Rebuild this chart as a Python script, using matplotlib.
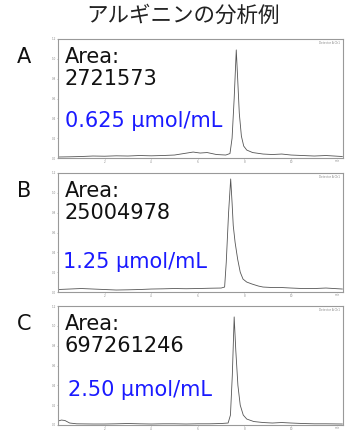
import numpy as np
import matplotlib.pyplot as plt

plt.rcParams['font.family'] = ['DejaVu Sans', 'Noto Sans CJK JP']

title = 'アルギニンの分析例'
panel_labels = ['A', 'B', 'C']
areas = ['2721573', '25004978', '697261246']
concs = ['0.625 μmol/mL', '1.25 μmol/mL', '2.50 μmol/mL']

# retention time (min) / signal
t_a = [0, 0.5, 1.0, 1.5, 2.0, 2.5, 3.0, 3.5, 4.0, 4.5, 5.0, 5.4, 5.8, 6.1, 6.4, 6.8, 7.2,
       7.38, 7.47, 7.56, 7.65, 7.71, 7.78, 7.87, 7.97, 8.1, 8.35, 8.8, 9.2, 9.6, 10.0, 10.5,
       11.0, 11.5, 12.2]
y_a = [0.01, 0.012, 0.015, 0.02, 0.018, 0.022, 0.02, 0.025, 0.022, 0.025, 0.03, 0.045,
       0.06, 0.05, 0.055, 0.035, 0.03, 0.045, 0.2, 0.6, 1.09, 0.8, 0.45, 0.22, 0.12, 0.08,
       0.055, 0.04, 0.035, 0.04, 0.03, 0.025, 0.02, 0.025, 0.015]

t_b = [0, 0.5, 1.0, 1.5, 2.0, 2.5, 3.0, 3.5, 4.0, 4.5, 5.0, 5.5, 6.0, 6.5, 7.0, 7.15,
       7.22, 7.32, 7.41, 7.47, 7.52, 7.6, 7.71, 7.82, 7.94, 8.1, 8.33, 8.6, 8.8, 9.2, 9.6,
       10.0, 10.5, 11.0, 11.5, 12.2]
y_b = [0.025, 0.03, 0.035, 0.03, 0.025, 0.02, 0.022, 0.025, 0.03, 0.032, 0.035, 0.033,
       0.035, 0.038, 0.04, 0.05, 0.3, 0.8, 1.14, 0.9, 0.67, 0.5, 0.33, 0.2, 0.13, 0.1,
       0.08, 0.06, 0.05, 0.045, 0.045, 0.04, 0.035, 0.035, 0.04, 0.03]

t_c = [0, 0.15, 0.3, 0.5, 0.8, 1.5, 2.0, 2.5, 3.0, 3.5, 4.0, 4.5, 5.0, 5.5, 6.0, 6.5,
       7.0, 7.3, 7.4, 7.48, 7.56, 7.63, 7.72, 7.82, 7.95, 8.1, 8.4, 8.8, 9.2, 9.6, 10.0,
       10.5, 11.0, 11.5, 12.2]
y_c = [0.04, 0.05, 0.045, 0.02, 0.012, 0.01, 0.01, 0.012, 0.015, 0.012, 0.01, 0.012,
       0.012, 0.01, 0.012, 0.012, 0.015, 0.02, 0.1, 0.5, 1.09, 0.75, 0.4, 0.2, 0.1, 0.06,
       0.035, 0.025, 0.02, 0.025, 0.02, 0.015, 0.012, 0.012, 0.01]

traces = [(t_a, y_a), (t_b, y_b), (t_c, y_c)]
x_ticks = [2, 4, 6, 8, 10]
y_ticks = [0, 0.2, 0.4, 0.6, 0.8, 1.0, 1.2]

W, H = 346, 430
fig = plt.figure(figsize=(W / 100, H / 100), dpi=100)

fig.text(183 / W, 1 - 16 / H, title, ha='center', va='center', fontsize=15.5,
         color='#222222', family=['Noto Sans CJK JP', 'DejaVu Sans'])

tops = [39, 173, 306]
for i, (t, y) in enumerate(traces):
    top = tops[i]
    ax = fig.add_axes([58 / W, 1 - (top + 119) / H, 285 / W, 119 / H])
    ax.plot(t, y, color='#555555', lw=0.6)
    ax.set_xlim(0, 12.23)
    ax.set_ylim(0, 1.2)
    ax.set_xticks(x_ticks)
    ax.set_yticks(y_ticks)
    ax.set_xticklabels([str(v) for v in x_ticks])
    ax.set_yticklabels(['%.1f' % v for v in y_ticks])
    ax.tick_params(labelsize=2, labelcolor='#888888', length=1, width=0.4,
                   color='#888888', pad=0.3)
    for s in ax.spines.values():
        s.set_color('#999999')
        s.set_linewidth(0.8)
    ax.text(0.99, -0.01, 'min', transform=ax.transAxes, fontsize=2,
            color='#888888', ha='right', va='top')
    ax.text(0.99, 0.985, 'Detector A Ch1', transform=ax.transAxes, fontsize=2,
            color='#888888', ha='right', va='top')

    fig.text(24 / W, 1 - (top + 18) / H, panel_labels[i], ha='center', va='center',
             fontsize=15, color='#111111')
    fig.text(65 / W, 1 - (top + 18) / H, 'Area:', ha='left', va='center',
             fontsize=15, color='#111111')
    fig.text(65 / W, 1 - (top + 40) / H, areas[i], ha='left', va='center',
             fontsize=15, color='#111111')
    cx = [65, 63, 68][i]
    cy = [82, 89, 84][i]
    fig.text(cx / W, 1 - (top + cy) / H, concs[i], ha='left', va='center',
             fontsize=15, color='#1a1aff')

fig.savefig('out.png', dpi=100)
